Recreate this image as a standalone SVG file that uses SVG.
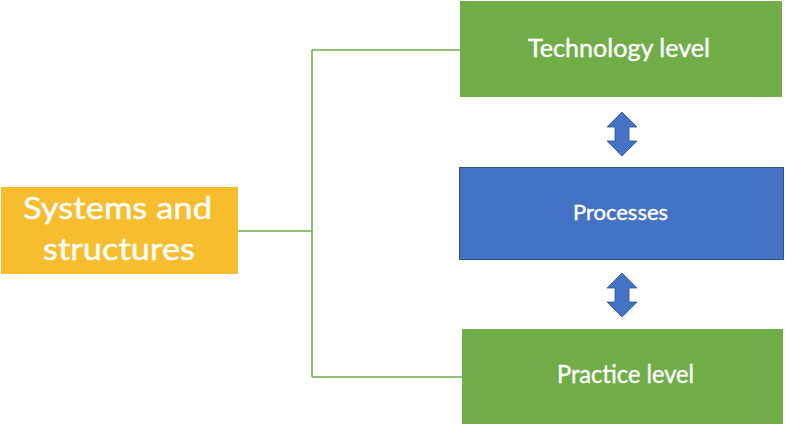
<svg xmlns="http://www.w3.org/2000/svg" width="786" height="427" viewBox="0 0 786 427">
<style>
.green{fill:#70AD47;}
.lbl{font-family:Lato,"Open Sans","Liberation Sans",sans-serif;fill:#FFFFFF;stroke:#FFFFFF;stroke-width:0.4;text-anchor:middle;}
.conn{fill:none;stroke:#70AD47;stroke-width:1.6;}
.dbl{fill:#4472C4;stroke:#2F528F;stroke-width:0.8;}
</style>
<rect width="786" height="427" fill="#FFFFFF"/>
<g id="connectors">
<path class="conn" d="M238,231 H312 M312,50 V377 M312,50 H460 M312,377 H462"/>
<path id="arrow-top" class="dbl" d="M622,112 L637,127 H629 V141 H637 L622,156 L607,141 H615 V127 H607 Z"/>
<path id="arrow-bottom" class="dbl" d="M622,273 L637,288 H629 V302 H637 L622,317 L607,302 H615 V288 H607 Z"/>
</g>
<g id="systems">
<rect x="1" y="187" width="237" height="87" fill="#F6BE2E"/>
<text class="lbl" x="117.5" y="219" font-size="31" textLength="189" lengthAdjust="spacingAndGlyphs">Systems and</text>
<text class="lbl" x="119" y="260" font-size="31" textLength="152" lengthAdjust="spacingAndGlyphs">structures</text>
</g>
<g id="technology">
<rect class="green" x="460" y="1" width="322" height="96"/>
<text class="lbl" x="619" y="57" font-size="25" textLength="182" lengthAdjust="spacingAndGlyphs">Technology level</text>
</g>
<g id="processes">
<rect x="459.5" y="167.5" width="324" height="92" fill="#4472C4" stroke="#2F528F" stroke-width="1"/>
<text class="lbl" x="620.5" y="220" font-size="21" textLength="95" lengthAdjust="spacingAndGlyphs">Processes</text>
</g>
<g id="practice">
<rect class="green" x="462" y="329" width="321" height="95"/>
<text class="lbl" x="625.5" y="383" font-size="25" textLength="137" lengthAdjust="spacingAndGlyphs">Practice level</text>
</g>
</svg>
